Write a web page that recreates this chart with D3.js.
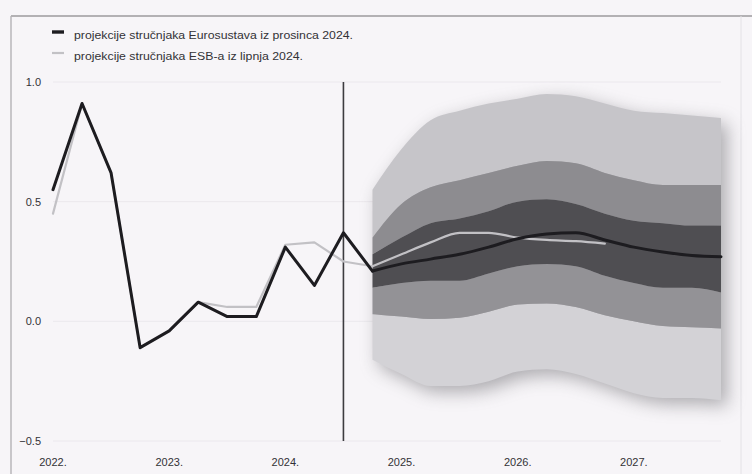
<!DOCTYPE html>
<html>
<head>
<meta charset="utf-8">
<script src="https://cdn.jsdelivr.net/npm/d3@7"></script>
<style>
  html, body { margin: 0; padding: 0; background: #f7f5f8; }
  svg { display: block; }
</style>
</head>
<body>
<svg id="chart" width="752" height="474"></svg>
<script>
// Quarters on the x axis, Q1 2022 – Q4 2027
const quarters = [
  '2022Q1', '2022Q2', '2022Q3', '2022Q4',
  '2023Q1', '2023Q2', '2023Q3', '2023Q4',
  '2024Q1', '2024Q2', '2024Q3', '2024Q4',
  '2025Q1', '2025Q2', '2025Q3', '2025Q4',
  '2026Q1', '2026Q2', '2026Q3', '2026Q4',
  '2027Q1', '2027Q2', '2027Q3', '2027Q4'
];
const yearTicks  = ['2022Q1', '2023Q1', '2024Q1', '2025Q1', '2026Q1', '2027Q1'];
const yearLabels = ['2022.', '2023.', '2024.', '2025.', '2026.', '2027.'];
const yTicks     = [1.0, 0.5, 0.0, -0.5];
const cutQuarter = '2024Q3';

// Eurosystem staff projections, December 2024 (black)
const eurosystemDec = [0.55, 0.91, 0.62, -0.11, -0.04, 0.08, 0.02, 0.02, 0.31, 0.15, 0.37,
  0.21, 0.24, 0.26, 0.28, 0.31, 0.345, 0.365, 0.37, 0.34, 0.31, 0.29, 0.275, 0.27];
// ECB staff projections, June 2024 (grey), horizon to end-2026
const ecbJun = [0.45, 0.91, 0.62, -0.11, -0.04, 0.08, 0.06, 0.06, 0.32, 0.33, 0.25,
  0.23, 0.28, 0.33, 0.37, 0.37, 0.35, 0.34, 0.335, 0.325];

// Fan chart bands, Q4 2024 – Q4 2027
const fanQuarters = quarters.slice(11);
const lightHi  = [0.55, 0.72, 0.84, 0.88, 0.91, 0.93, 0.95, 0.94, 0.91, 0.88, 0.87, 0.86, 0.85];
const mediumHi = [0.35, 0.49, 0.56, 0.59, 0.62, 0.65, 0.67, 0.66, 0.62, 0.59, 0.57, 0.57, 0.57];
const darkHi   = [0.28, 0.35, 0.41, 0.43, 0.46, 0.50, 0.51, 0.49, 0.45, 0.42, 0.41, 0.40, 0.40];
const darkLo   = [0.14, 0.16, 0.17, 0.17, 0.20, 0.23, 0.24, 0.23, 0.19, 0.16, 0.14, 0.14, 0.12];
const mediumLo = [0.03, 0.02, 0.01, 0.015, 0.04, 0.07, 0.075, 0.06, 0.025, 0.0, -0.02, -0.025, -0.03];
const lightLo  = [-0.16, -0.22, -0.27, -0.27, -0.25, -0.21, -0.20, -0.22, -0.26, -0.30, -0.32, -0.32, -0.33];

const legendLabels = [
  'projekcije stručnjaka Eurosustava iz prosinca 2024.',
  'projekcije stručnjaka ESB-a iz lipnja 2024.'
];

const W = 752, H = 474;
const FONT = '"Liberation Sans", Arial, sans-serif';
const svg = d3.select('#chart');

const x = d3.scalePoint().domain(quarters).range([53, 721]);
const y = d3.scaleLinear().domain([-0.5, 1.0]).range([441, 82]);
const cutIdx = quarters.indexOf('2024Q4');

const defs = svg.append('defs');
defs.append('filter').attr('id', 'halo')
  .attr('x', '-20%').attr('y', '-20%').attr('width', '140%').attr('height', '140%')
  .append('feGaussianBlur').attr('stdDeviation', 9);

// Frame
svg.append('rect').attr('width', W).attr('height', H).attr('fill', '#f7f5f8');
svg.append('line').attr('x1', 11).attr('x2', W).attr('y1', 16).attr('y2', 16)
  .attr('stroke', '#9c9a9e').attr('stroke-width', 1.6);
svg.append('line').attr('x1', 11).attr('x2', 11).attr('y1', 16).attr('y2', H)
  .attr('stroke', '#b4b2b6').attr('stroke-width', 1.4);
svg.append('line').attr('x1', 741).attr('x2', 741).attr('y1', 16).attr('y2', H)
  .attr('stroke', '#e4e2e6').attr('stroke-width', 1);

// Faint grid
const grid = svg.append('g');
yTicks.forEach(v => {
  grid.append('line').attr('x1', 53).attr('x2', 721).attr('y1', y(v)).attr('y2', y(v))
    .attr('stroke', '#ebe8ed').attr('stroke-width', 1);
});

// Fan chart
const fan = svg.append('g');
const band = (lo, hi) => d3.area()
  .curve(d3.curveMonotoneX)
  .x((d, i) => x(fanQuarters[i]))
  .y0((d, i) => y(lo[i]))
  .y1((d, i) => y(hi[i]))(fanQuarters);

// scanned shadow around the fan
fan.append('path').attr('d', band(lightLo, lightHi))
  .attr('fill', '#6e6d72').attr('opacity', 0.55)
  .attr('transform', 'translate(6,6)').attr('filter', 'url(#halo)');

fan.append('path').attr('d', band(mediumHi, lightHi)).attr('fill', '#c6c5c9');
fan.append('path').attr('d', band(lightLo, mediumLo)).attr('fill', '#d3d2d6');
fan.append('path').attr('d', band(darkHi, mediumHi)).attr('fill', '#8d8c90');
fan.append('path').attr('d', band(mediumLo, darkLo)).attr('fill', '#939296');
fan.append('path').attr('d', band(darkLo, darkHi)).attr('fill', '#4f4e52');

// Projection start line
svg.append('line')
  .attr('x1', x(cutQuarter)).attr('x2', x(cutQuarter))
  .attr('y1', y(1.0)).attr('y2', y(-0.5))
  .attr('stroke', '#3c3b3f').attr('stroke-width', 1.6);

// Lines: straight up to the first projected quarter, smooth afterwards
const histLine = d3.line().x(d => x(d.q)).y(d => y(d.v));
const projLine = d3.line().curve(d3.curveMonotoneX).x(d => x(d.q)).y(d => y(d.v));
function drawSeries(values, stroke, width) {
  const pts = values.map((v, i) => ({ q: quarters[i], v }));
  [histLine(pts.slice(0, cutIdx + 1)), projLine(pts.slice(cutIdx))].forEach(d => {
    svg.append('path').attr('d', d)
      .attr('fill', 'none').attr('stroke', stroke).attr('stroke-width', width)
      .attr('stroke-linejoin', 'round').attr('stroke-linecap', 'round');
  });
}
drawSeries(ecbJun, '#c2c1c5', 2.2);
drawSeries(eurosystemDec, '#1d1c20', 3);

// Y axis labels
svg.append('g').selectAll('text').data(yTicks).join('text')
  .attr('x', 41).attr('y', d => y(d)).attr('dy', '0.35em')
  .attr('text-anchor', 'end')
  .attr('font-family', FONT).attr('font-size', 11).attr('fill', '#333236')
  .text(d => d3.format('.1f')(d));

// X axis labels
svg.append('g').selectAll('text').data(yearTicks).join('text')
  .attr('x', d => x(d)).attr('y', 462).attr('dy', '0.35em')
  .attr('text-anchor', 'middle')
  .attr('font-family', FONT).attr('font-size', 11).attr('fill', '#333236')
  .text((d, i) => yearLabels[i]);

// Legend
const lg = svg.append('g');
const legendStyles = [
  { stroke: '#1d1c20', width: 3.4, len: 279 },
  { stroke: '#c2c1c5', width: 2.2, len: 229 }
];
legendLabels.forEach((label, i) => {
  const ly = 35 + i * 21;
  lg.append('line').attr('x1', 52).attr('x2', 64).attr('y1', ly - 3).attr('y2', ly - 3)
    .attr('stroke', legendStyles[i].stroke).attr('stroke-width', legendStyles[i].width);
  lg.append('text').attr('x', 74).attr('y', ly).attr('dy', '0.35em')
    .attr('font-family', FONT).attr('font-size', 11).attr('fill', '#333236')
    .attr('textLength', legendStyles[i].len).attr('lengthAdjust', 'spacingAndGlyphs')
    .text(label);
});
</script>
</body>
</html>
